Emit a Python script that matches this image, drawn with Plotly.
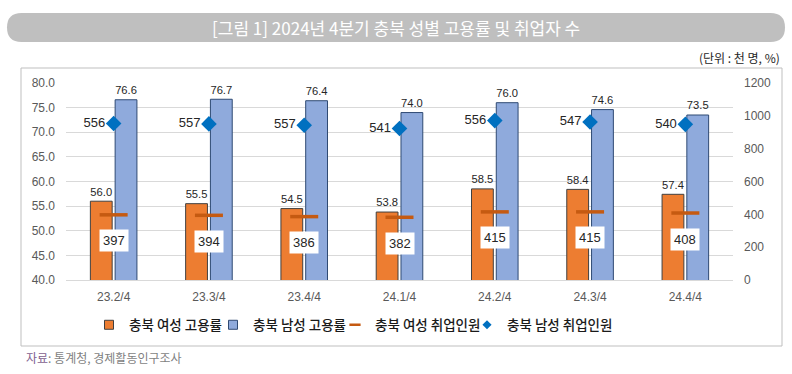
import plotly.graph_objects as go

categories = ["23.2/4", "23.3/4", "23.4/4", "24.1/4", "24.2/4", "24.3/4", "24.4/4"]
female_rate = [56.0, 55.5, 54.5, 53.8, 58.5, 58.4, 57.4]
male_rate = [76.6, 76.7, 76.4, 74.0, 76.0, 74.6, 73.5]
female_emp = [397, 394, 386, 382, 415, 415, 408]
male_emp = [556, 557, 557, 541, 556, 547, 540]

series_names = ["충북 여성 고용률", "충북 남성 고용률", "충북 여성 취업인원", "충북 남성 취업인원"]

# Stacked line series (as in the source chart): male marker sits on top of female
male_stacked = [f + m for f, m in zip(female_emp, male_emp)]

W, H = 792, 374
L, R, T, B = 66, 733, 83, 280
FONT = "Noto Sans CJK KR"

ORANGE, ORANGE_EDGE = "#ED7D31", "#404040"
BLUE, BLUE_EDGE = "#8FAADC", "#2F4A73"
DASH = "#C55A11"
DIAMOND = "#0070C0"


def px(x):
    return (x - L) / (R - L)


def py(y):
    return (B - y) / (B - T)


fig = go.Figure()
fig.add_trace(go.Bar(
    x=categories, y=female_rate, name=series_names[0], showlegend=False,
    marker=dict(color=ORANGE, line=dict(color=ORANGE_EDGE, width=1)),
    text=[f"{v:.1f}" for v in female_rate], textposition="outside",
    textfont=dict(size=13, color="#262626", family="Arial"), cliponaxis=False,
))
fig.add_trace(go.Bar(
    x=categories, y=male_rate, name=series_names[1], showlegend=False,
    marker=dict(color=BLUE, line=dict(color=BLUE_EDGE, width=1)),
    text=[f"{v:.1f}" for v in male_rate], textposition="outside",
    textfont=dict(size=13, color="#262626", family="Arial"), cliponaxis=False,
))
fig.add_trace(go.Scatter(
    x=categories, y=female_emp, name=series_names[2], yaxis="y2", showlegend=False,
    mode="markers",
    marker=dict(symbol="line-ew", size=20, line=dict(color=DASH, width=3.5)),
))
fig.add_trace(go.Scatter(
    x=categories, y=male_stacked, name=series_names[3], yaxis="y2", showlegend=False,
    mode="markers+text",
    marker=dict(symbol="diamond", size=12, color=DIAMOND),
    text=[str(v) for v in male_emp], textposition="middle left",
    textfont=dict(size=13, color="#262626", family="Arial"),
))

# Legend-only entries (small symbols as in the original legend)
fig.add_trace(go.Scatter(x=[None], y=[None], name=series_names[0], legend="legend",
                         mode="markers",
                         marker=dict(symbol="square", size=9, color=ORANGE,
                                     line=dict(color=ORANGE_EDGE, width=1))))
fig.add_trace(go.Scatter(x=[None], y=[None], name=series_names[1], legend="legend2",
                         mode="markers",
                         marker=dict(symbol="square", size=9, color=BLUE,
                                     line=dict(color=BLUE_EDGE, width=1))))
fig.add_trace(go.Scatter(x=[None], y=[None], name=series_names[2], legend="legend3",
                         mode="markers", yaxis="y2",
                         marker=dict(symbol="line-ew", size=8, line=dict(color=DASH, width=2.5))))
fig.add_trace(go.Scatter(x=[None], y=[None], name=series_names[3], legend="legend4",
                         mode="markers", yaxis="y2",
                         marker=dict(symbol="diamond", size=7, color=DIAMOND)))

annotations = []
for c, v in zip(categories, female_emp):
    annotations.append(dict(
        x=c, y=v, xref="x", yref="y2", text=str(v), showarrow=False,
        yshift=-26, bgcolor="white", borderpad=3,
        font=dict(size=13, color="#262626", family="Arial"),
    ))

# Title bar text, unit, source
annotations.append(dict(
    x=px(396), y=py(27), xref="paper", yref="paper", xanchor="center", yanchor="middle",
    text="[그림 1] 2024년 4분기 충북 성별 고용률 및 취업자 수",
    showarrow=False, font=dict(size=17, color="white", family=FONT),
))
annotations.append(dict(
    x=px(782), y=py(57), xref="paper", yref="paper", xanchor="right", yanchor="middle",
    text="(단위 : 천 명, %)", showarrow=False,
    font=dict(size=12, color="#262626", family=FONT),
))
annotations.append(dict(
    x=px(24), y=py(357), xref="paper", yref="paper", xanchor="left", yanchor="middle",
    text="<span style='color:#7F5F8F'>자료</span>: 통계청, 경제활동인구조사",
    showarrow=False, font=dict(size=12, color="#7F7F7F", family=FONT),
))

# Rounded title bar path (pixel -> paper)
x0, x1, y0, y1, r = 7, 785, 13, 42, 14.5
path = (
    f"M {px(x0 + r)} {py(y0)} L {px(x1 - r)} {py(y0)} "
    f"Q {px(x1)} {py(y0)} {px(x1)} {py(y0 + r)} "
    f"Q {px(x1)} {py(y1)} {px(x1 - r)} {py(y1)} "
    f"L {px(x0 + r)} {py(y1)} "
    f"Q {px(x0)} {py(y1)} {px(x0)} {py(y0 + r)} "
    f"Q {px(x0)} {py(y0)} {px(x0 + r)} {py(y0)} Z"
)
shapes = [
    dict(type="path", path=path, xref="paper", yref="paper",
         fillcolor="#BFBFBF", line=dict(width=0), layer="below"),
    dict(type="rect", xref="paper", yref="paper",
         x0=px(21), x1=px(782), y0=py(346), y1=py(68),
         line=dict(color="#BFBFBF", width=1), fillcolor="rgba(0,0,0,0)", layer="below"),
]

legend_common = dict(orientation="h", xanchor="left", yanchor="middle", y=py(325),
                     font=dict(size=13.5, color="#1A1A1A", family=FONT, weight=500),
                     itemwidth=30, bgcolor="rgba(0,0,0,0)", borderwidth=0)
legend_text_starts = [128, 252, 374, 506]

fig.update_layout(
    width=W, height=H,
    margin=dict(l=L, r=W - R, t=T, b=H - B, autoexpand=False),
    paper_bgcolor="white", plot_bgcolor="white",
    barmode="group", bargap=0.48, bargroupgap=0.12,
    font=dict(family=FONT, color="#595959"),
    showlegend=True,
    legend=dict(x=px(legend_text_starts[0] - 39), **legend_common),
    legend2=dict(x=px(legend_text_starts[1] - 39), **legend_common),
    legend3=dict(x=px(legend_text_starts[2] - 39), **legend_common),
    legend4=dict(x=px(legend_text_starts[3] - 39), **legend_common),
    xaxis=dict(type="category", showgrid=False, showline=True, linecolor="#D9D9D9",
               tickfont=dict(size=12, color="#595959", family="Arial"), ticks="",
               ticklabelstandoff=6),
    yaxis=dict(range=[40, 80], dtick=5, tickformat=".1f", showgrid=True,
               gridcolor="#D9D9D9", zeroline=False, ticks="",
               tickfont=dict(size=12, color="#595959", family="Arial"),
               ticklabelstandoff=10),
    yaxis2=dict(range=[0, 1200], dtick=200, overlaying="y", side="right",
                showgrid=False, zeroline=False, ticks="",
                tickfont=dict(size=12, color="#595959", family="Arial"),
                ticklabelstandoff=10),
    annotations=annotations,
    shapes=shapes,
)

fig.write_html(
    "out.html",
    config={"displayModeBar": False},
    post_script="document.body.style.margin='0';document.body.style.padding='0';",
)
